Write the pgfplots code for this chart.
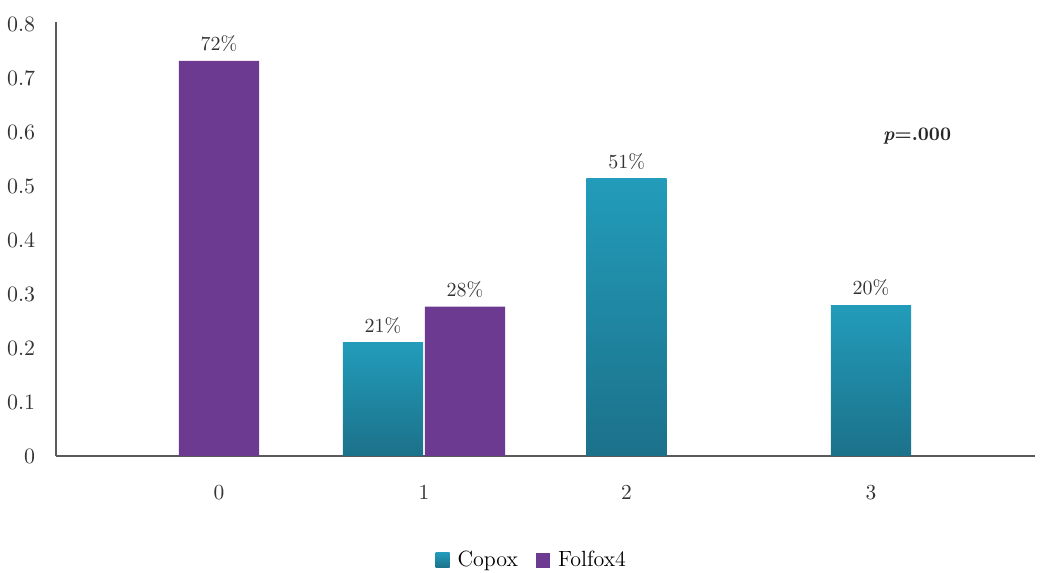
\documentclass[border=0pt]{standalone}
\usepackage{pgfplots}
\pgfplotsset{compat=1.18}
\definecolor{folf}{RGB}{108,58,145}
\definecolor{copt}{RGB}{34,156,186}
\definecolor{copb}{RGB}{28,113,138}
\definecolor{axc}{RGB}{90,90,90}
\begin{document}
\begin{tikzpicture}
\useasboundingbox (0,0) rectangle (520pt,286.5pt);
\begin{axis}[
  at={(28pt,58.5pt)}, anchor=south west,
  scale only axis, width=489.5pt, height=217pt,
  xmin=-0.795, xmax=3.98, ymin=0, ymax=0.805,
  axis x line=bottom, axis y line=left,
  axis line style={-, axc, line width=1pt},
  xtick={0,1,1.988,3.18}, xticklabels={0,1,2,3},
  ytick={0,0.1,...,0.8},
  yticklabel style={/pgf/number format/fixed, /pgf/number format/precision=1, xshift=-4.8pt},
  xticklabel style={yshift=-7pt},
  tick style={draw=none},
  tick label style={font=\fontsize{10.7}{12}\selectfont, text=black!80},
  bar width=40.1pt,
  ybar, bar shift=0pt,
  nodes near coords, point meta=explicit symbolic,
  every node near coord/.append style={font=\fontsize{10}{12}\selectfont, text=black!80, yshift=1pt},
  legend style={at={(0.487,-0.24)}, anchor=center, draw=none, legend columns=2,
    font=\fontsize{11}{13}\selectfont, /tikz/every even column/.append style={column sep=7pt},
    /tikz/every odd column/.append style={column sep=2pt}},
  legend image code/.code={\path[#1] (0pt,-3.8pt) rectangle (7pt,3.8pt);},
]
\addplot[draw=none, top color=copt, bottom color=copb] coordinates {(0.8,0.21) [21\%]};
\addlegendentry{Copox}
\addplot[draw=none, fill=folf] coordinates {(0,0.733) [72\%] (1.2,0.277) [28\%]};
\addlegendentry{Folfox4}
\addplot[draw=none, top color=copt, bottom color=copb, forget plot] coordinates {(1.988,0.515) [51\%]};
\addplot[draw=none, top color=copt, bottom color=copb, forget plot] coordinates {(3.18,0.28) [20\%]};
\node[font=\fontsize{9.6}{12}\selectfont, text=black!85] at (axis cs:3.405,0.594) {\textbf{\textit{p}=.000}};
\end{axis}
\end{tikzpicture}
\end{document}
